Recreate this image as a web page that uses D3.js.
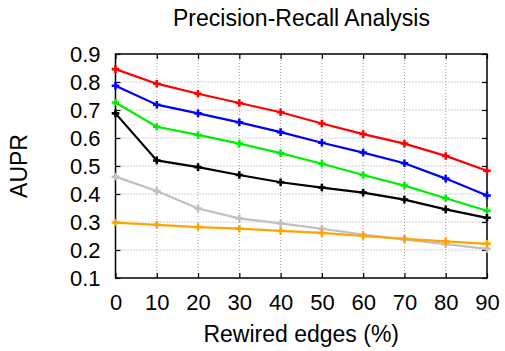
<!DOCTYPE html>
<html>
<head>
<meta charset="utf-8">
<script src="https://cdn.jsdelivr.net/npm/d3@7"></script>
<style>
  body { margin: 0; background: #fff; }
  text { font-family: "Liberation Sans", Arial, sans-serif; fill: #000; }
</style>
</head>
<body>
<div id="chart"></div>
<script>
// rewired edges (%)
var rewired = [0, 10, 20, 30, 40, 50, 60, 70, 80, 90];
var yTicks = [0.1, 0.2, 0.3, 0.4, 0.5, 0.6, 0.7, 0.8, 0.9];

var redVals    = [0.846, 0.794, 0.758, 0.725, 0.692, 0.652, 0.614, 0.580, 0.536, 0.483];
var blueVals   = [0.787, 0.719, 0.688, 0.656, 0.621, 0.583, 0.548, 0.510, 0.455, 0.395];
var greenVals  = [0.727, 0.640, 0.611, 0.580, 0.546, 0.508, 0.468, 0.430, 0.385, 0.340];
var blackVals  = [0.688, 0.520, 0.496, 0.468, 0.442, 0.423, 0.405, 0.380, 0.345, 0.315];
var grayVals   = [0.462, 0.411, 0.348, 0.313, 0.295, 0.276, 0.255, 0.238, 0.221, 0.204];
var orangeVals = [0.298, 0.290, 0.282, 0.276, 0.268, 0.261, 0.250, 0.240, 0.231, 0.222];

var series = [
  { color: "#ff0000", values: redVals },
  { color: "#0000ff", values: blueVals },
  { color: "#00ee00", values: greenVals },
  { color: "#000000", values: blackVals },
  { color: "#c0c0c0", values: grayVals },
  { color: "#ffa500", values: orangeVals }
];

var svgWidth = 505, svgHeight = 351;
var margin = { top: 54, right: 18, bottom: 73, left: 115.5 };
var width = 487 - margin.left;
var height = 278 - margin.top;

var svg = d3.select("#chart").append("svg")
  .attr("width", svgWidth)
  .attr("height", svgHeight);

var chartGroup = svg.append("g")
  .attr("transform", `translate(${margin.left}, ${margin.top})`);

var x = d3.scaleLinear().domain([0, 90]).range([0, width]);
var y = d3.scaleLinear().domain([0.1, 0.9]).range([height, 0]);

// dotted grid
chartGroup.append("g")
  .selectAll("line")
  .data(rewired.slice(1, -1))
  .enter().append("line")
  .attr("x1", d => x(d)).attr("x2", d => x(d))
  .attr("y1", 0).attr("y2", height)
  .attr("stroke", "#a0a0a0").attr("stroke-width", 1)
  .attr("stroke-dasharray", "1,2");

chartGroup.append("g")
  .selectAll("line")
  .data(yTicks.slice(1, -1))
  .enter().append("line")
  .attr("x1", 0).attr("x2", width)
  .attr("y1", d => y(d)).attr("y2", d => y(d))
  .attr("stroke", "#a0a0a0").attr("stroke-width", 1)
  .attr("stroke-dasharray", "1,2");

// axes, ticks pointing inward on all four sides
var bottomAxis = d3.axisBottom(x).tickValues(rewired).tickSize(-5).tickPadding(16).tickFormat(d3.format("d"));
var topAxis = d3.axisTop(x).tickValues(rewired).tickSize(-5).tickFormat("");
var leftAxis = d3.axisLeft(y).tickValues(yTicks).tickSize(-5).tickPadding(15).tickFormat(d3.format(".1f"));
var rightAxis = d3.axisRight(y).tickValues(yTicks).tickSize(-5).tickFormat("");

function styleAxis(g) {
  g.select(".domain").remove();
  g.selectAll(".tick line").attr("stroke", "#000").attr("stroke-width", 1.2);
  g.selectAll(".tick text").attr("font-size", "22px").attr("font-family", "Liberation Sans, Arial, sans-serif");
}

chartGroup.append("g").attr("transform", `translate(0, ${height})`).call(bottomAxis).call(styleAxis);
chartGroup.append("g").call(topAxis).call(styleAxis);
chartGroup.append("g").call(leftAxis).call(styleAxis);
chartGroup.append("g").attr("transform", `translate(${width}, 0)`).call(rightAxis).call(styleAxis);

chartGroup.append("rect")
  .attr("x", 0).attr("y", 0)
  .attr("width", width).attr("height", height)
  .attr("fill", "none").attr("stroke", "#000").attr("stroke-width", 1.5);

// lines + markers
var line = d3.line()
  .x((d, i) => x(rewired[i]))
  .y(d => y(d));

var cross = d3.symbol().type(d3.symbolCross).size(32);

series.forEach(function(s) {
  var g = chartGroup.append("g");
  g.append("path")
    .datum(s.values)
    .attr("d", line)
    .attr("fill", "none")
    .attr("stroke", s.color)
    .attr("stroke-width", 2.2);
  g.selectAll("path.pt")
    .data(s.values)
    .enter().append("path")
    .classed("pt", true)
    .attr("d", cross)
    .attr("transform", (d, i) => `translate(${x(rewired[i])}, ${y(d)})`)
    .attr("fill", s.color);
});

// labels
svg.append("text")
  .attr("x", 301.5).attr("y", 26)
  .attr("text-anchor", "middle")
  .attr("font-size", "23px")
  .text("Precision-Recall Analysis");

svg.append("text")
  .attr("transform", `translate(27, ${margin.top + height / 2}) rotate(-90)`)
  .attr("text-anchor", "middle")
  .attr("font-size", "23px")
  .text("AUPR");

svg.append("text")
  .attr("x", margin.left + width / 2).attr("y", 342)
  .attr("text-anchor", "middle")
  .attr("font-size", "23px")
  .text("Rewired edges (%)");
</script>
</body>
</html>
